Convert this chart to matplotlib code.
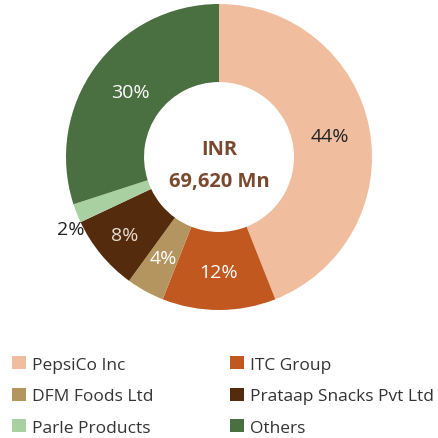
import numpy as np
import matplotlib.pyplot as plt
from matplotlib.patches import Patch

plt.rcParams['font.family'] = ['Open Sans', 'DejaVu Sans']

companies = ['PepsiCo Inc', 'ITC Group', 'DFM Foods Ltd', 'Prataap Snacks Pvt Ltd',
             'Parle Products', 'Others']
shares = [44, 12, 4, 8, 2, 30]
colors = ['#F0BE9F', '#C0581F', '#B5955F', '#552B0D', '#A9D0A1', '#4A6F40']
label_colors = ['#222222', 'white', 'white', '#E8DCD0', '#222222', 'white']
label_dist = [0.74, 0.75, 0.75, 0.8, 1.08, 0.72]
label_turn = [0, 0, 0, 0, 4.4, 0]   # degrees, nudges the outside label
center_text = ['INR', '69,620 Mn']

fig = plt.figure(figsize=(4.38, 4.39), dpi=100)
ax = fig.add_axes([66/438, 1 - 311/439, 306/438, 306/439])

wedges, texts, autotexts = ax.pie(shares, colors=colors, startangle=90, counterclock=False,
                                  radius=1, autopct='%d%%', pctdistance=0.75,
                                  wedgeprops=dict(width=0.51, edgecolor='none'))
for w, t, c, d, s in zip(wedges, autotexts, label_colors, label_dist, label_turn):
    t.set_color(c)
    t.set_fontsize(14)
    ang = np.deg2rad((w.theta1 + w.theta2) / 2 + s)
    t.set_position((d * np.cos(ang), d * np.sin(ang)))

ax.text(0, 0.05, center_text[0], ha='center', va='center', fontsize=14.5,
        fontweight='bold', color='#7A4A30')
ax.text(0, -0.16, center_text[1], ha='center', va='center', fontsize=14.5,
        fontweight='bold', color='#7A4A30')
ax.set_xlim(-1, 1)
ax.set_ylim(-1, 1)
ax.set_aspect('equal')
ax.axis('off')

handles = [Patch(facecolor=c, edgecolor='none') for c in colors]
order = [0, 2, 4, 1, 3, 5]
fig.legend([handles[i] for i in order], [companies[i] for i in order],
           loc='upper left', bbox_to_anchor=(-0.008, 0.222), ncol=2, frameon=False,
           fontsize=12.5, handlelength=0.8, handleheight=0.8, handletextpad=0.35,
           columnspacing=4.4, labelspacing=0.85, labelcolor='#333333')

fig.savefig('out.png', dpi=100)
